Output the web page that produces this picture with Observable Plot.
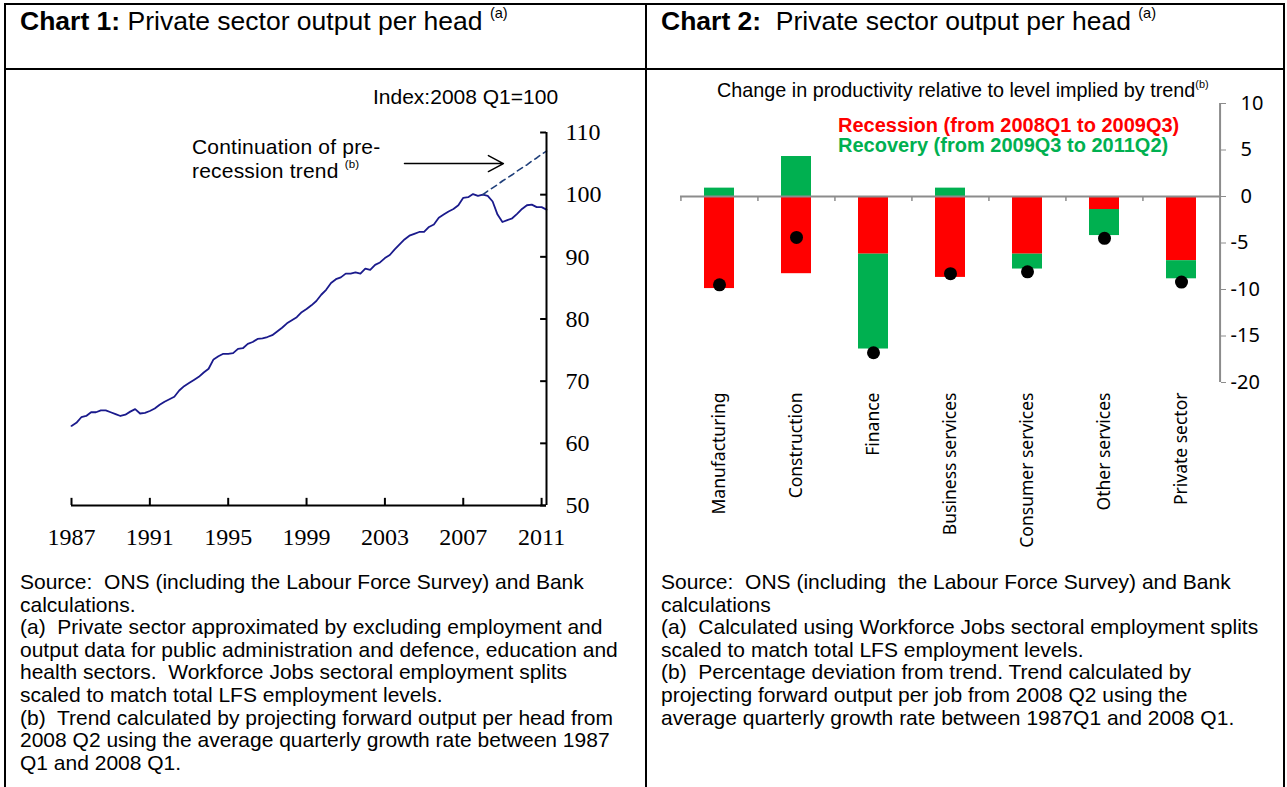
<!DOCTYPE html>
<html>
<head>
<meta charset="utf-8">
<script src="https://cdn.jsdelivr.net/npm/d3@7"></script>
<script src="https://cdn.jsdelivr.net/npm/@observablehq/plot@0.6"></script>
<style>
  html, body { margin: 0; padding: 0; background: #fff; }
  #page { position: relative; width: 1287px; height: 787px; overflow: hidden; font-family: "Liberation Sans", Arial, sans-serif; color: #000; }
  .abs { position: absolute; white-space: nowrap; }
  .line { position: absolute; background: #000; }
  .title { font-size: 26.5px; top: 6px; }
  .foot { font-size: 21px; line-height: 22.6px; top: 571px; }
  sup { font-size: 0.55em; vertical-align: 0; position: relative; top: -0.85em; }
</style>
</head>
<body>
<div id="page">
  <div class="line" style="left:4px;top:3px;width:1281px;height:2px"></div>
  <div class="line" style="left:4px;top:3px;width:2px;height:800px"></div>
  <div class="line" style="left:1283px;top:3px;width:2px;height:800px"></div>
  <div class="line" style="left:645px;top:3px;width:2px;height:800px"></div>
  <div class="line" style="left:4px;top:68px;width:1281px;height:2px"></div>

  <div class="abs title" style="left:20px"><b>Chart 1:</b> Private sector output per head <sup>(a)</sup></div>
  <div class="abs title" style="left:661px"><b>Chart 2:</b>&nbsp; Private sector output per head <sup>(a)</sup></div>

  <div id="chart1" class="abs" style="left:0px;top:70px"></div>
  <div id="chart2" class="abs" style="left:646px;top:70px"></div>

  <div class="abs" style="left:373px;top:85px;font-size:21px">Index:2008 Q1=100</div>
  <div class="abs" style="left:192px;top:135px;font-size:21px;line-height:24px;letter-spacing:0.2px">Continuation of pre-<br>recession trend <sup>(b)</sup></div>

  <div class="abs" style="left:717px;top:79px;font-size:19.8px">Change in productivity relative to level implied by trend<sup>(b)</sup></div>
  <div class="abs" style="left:838px;top:114px;font-size:20px;font-weight:bold;color:#ff0000">Recession (from 2008Q1 to 2009Q3)</div>
  <div class="abs" style="left:838px;top:134px;font-size:20px;font-weight:bold;color:#00b050">Recovery (from 2009Q3 to 2011Q2)</div>

  <div class="abs foot" style="left:20px">Source:&nbsp; ONS (including the Labour Force Survey) and Bank<br>calculations.<br>(a)&nbsp; Private sector approximated by excluding employment and<br>output data for public administration and defence, education and<br>health sectors.&nbsp; Workforce Jobs sectoral employment splits<br>scaled to match total LFS employment levels.<br>(b)&nbsp; Trend calculated by projecting forward output per head from<br>2008 Q2 using the average quarterly growth rate between 1987<br>Q1 and 2008 Q1.</div>
  <div class="abs foot" style="left:661px">Source:&nbsp; ONS (including&nbsp; the Labour Force Survey) and Bank<br>calculations<br>(a)&nbsp; Calculated using Workforce Jobs sectoral employment splits<br>scaled to match total LFS employment levels.<br>(b)&nbsp; Percentage deviation from trend. Trend calculated by<br>projecting forward output per job from 2008 Q2 using the<br>average quarterly growth rate between 1987Q1 and 2008 Q1.</div>
</div>
<script>
// ---------- Chart 1 data ----------
const startYear = 1987;
const outputPerHead = [
  62.8, 63.3, 64.2, 64.4, 65.0, 65.0, 65.3, 65.3, 65.0, 64.7,
  64.4, 64.6, 65.1, 65.5, 64.8, 64.9, 65.2, 65.6, 66.2, 66.7,
  67.1, 67.5, 68.5, 69.2, 69.7, 70.2, 70.7, 71.4, 72.0, 73.5,
  74.0, 74.4, 74.4, 74.5, 75.2, 75.3, 76.0, 76.3, 76.8, 76.9,
  77.1, 77.4, 78.0, 78.6, 79.3, 79.8, 80.3, 81.1, 81.6, 82.2,
  82.9, 83.9, 84.7, 85.8, 86.4, 86.7, 87.3, 87.3, 87.5, 87.3,
  88.1, 87.9, 88.7, 89.1, 89.8, 90.3, 91.2, 92.0, 92.8, 93.4,
  93.7, 94.0, 94.0, 94.8, 95.2, 96.3, 96.8, 97.3, 97.7, 98.3,
  99.5, 99.6, 100.1, 99.8, 100.0, 99.8, 98.9, 96.8, 95.6, 95.9,
  96.2, 96.9, 97.7, 98.3, 98.4, 98.0, 98.0, 97.6
];
const trendStartIndex = 84; // 2008 Q1
const preRecessionTrend = [100.0, 100.6, 101.1, 101.6, 102.2, 102.7, 103.2, 103.8, 104.3, 104.8, 105.4, 105.9, 106.5, 107.0];
const yearTicks = [1987, 1991, 1995, 1999, 2003, 2007, 2011];
const indexTicks = [50, 60, 70, 80, 90, 100, 110];
const arrowNote = [{from: 2004.0, to: 2009.05, level: 105.0}];

// ---------- Chart 2 data ----------
const sectors = ["Manufacturing", "Construction", "Finance", "Business services", "Consumer services", "Other services", "Private sector"];
const recession = [-9.9, -8.3, -6.2, -8.7, -6.2, -1.4, -6.9];
const recovery = [0.9, 4.3, -10.2, 0.9, -1.6, -2.8, -1.95];
const netChange = [-9.5, -4.4, -16.8, -8.3, -8.1, -4.5, -9.2];
const changeTicks = [10, 5, 0, -5, -10, -15, -20];
const phases = ["Recession", "Recovery"];
const phaseColors = ["#ff0000", "#00b050"];

// ---------- Chart 1 ----------
const series = outputPerHead.map((v, i) => ({t: startYear + i / 4, v}));
const trend = preRecessionTrend.map((v, k) => ({t: startYear + (trendStartIndex + k) / 4, v}));
const xEnd = startYear + (outputPerHead.length - 1) / 4;

const chart1 = Plot.plot({
  width: 646, height: 490,
  marginLeft: 71, marginRight: 100, marginTop: 62, marginBottom: 55,
  style: {background: "transparent", overflow: "visible"},
  x: {domain: [startYear, xEnd], axis: null},
  y: {domain: [50, 110], axis: null},
  marks: [
    Plot.line(series, {x: "t", y: "v", stroke: "#1a1a8c", strokeWidth: 1.8}),
    Plot.line(trend, {x: "t", y: "v", stroke: "#1f3f7a", strokeWidth: 1.6, strokeDasharray: "6,4.5"}),
    Plot.ruleY([50], {stroke: "#000", strokeWidth: 2}),
    Plot.ruleX([xEnd], {stroke: "#000", strokeWidth: 2}),
    Plot.ruleX(yearTicks, {x: d => d, y1: 50, y2: 51.15, stroke: "#000", strokeWidth: 2}),
    Plot.ruleY(indexTicks, {y: d => d, x1: xEnd - 0.3, x2: xEnd, stroke: "#000", strokeWidth: 2}),
    Plot.axisX({ticks: yearTicks, tickSize: 0, tickPadding: 22, tickFormat: d => String(d), fontSize: 24, fontFamily: "Liberation Serif, Times New Roman, serif", label: null}),
    Plot.axisY({anchor: "right", ticks: indexTicks, tickSize: 0, tickPadding: 19, tickFormat: d => String(d), fontSize: 24, fontFamily: "Liberation Serif, Times New Roman, serif", label: null}),
    Plot.arrow(arrowNote, {x1: "from", x2: "to", y1: "level", y2: "level", stroke: "#000", strokeWidth: 1.5, headLength: 17, headAngle: 56})
  ]
});
document.getElementById("chart1").appendChild(chart1);

// ---------- Chart 2 ----------
const rows = [];
phases.forEach((p, pi) => {
  const vals = pi === 0 ? recession : recovery;
  sectors.forEach((s, i) => rows.push({sector: s, phase: p, value: vals[i]}));
});
const dots = sectors.map((s, i) => ({sector: s, value: netChange[i]}));
const last = sectors[sectors.length - 1];

const chart2 = Plot.plot({
  width: 640, height: 490,
  marginLeft: 34, marginRight: 66, marginTop: 33, marginBottom: 178,
  style: {background: "transparent", overflow: "visible"},
  x: {domain: sectors, paddingInner: 0.61, paddingOuter: 0.305, axis: null},
  y: {domain: [-20, 10], axis: null},
  color: {domain: phases, range: phaseColors},
  marks: [
    Plot.barY(rows, {x: "sector", y: "value", fill: "phase"}),
    Plot.ruleY([0], {stroke: "#8c8c8c", strokeWidth: 2}),
    Plot.ruleX(sectors, {x: d => d, dx: -38.57, y1: 0, y2: -0.55, stroke: "#8c8c8c", strokeWidth: 1.5}),
    Plot.ruleX([last], {x: d => d, dx: 38.57, y1: -20, y2: 10, stroke: "#8c8c8c", strokeWidth: 2}),
    Plot.axisY({anchor: "right", ticks: changeTicks, tickSize: 5, tickPadding: 5, stroke: "#8c8c8c", fill: "#000",
      tickFormat: d => d < 0 ? "-" + Math.abs(d) : "\u2002" + d, fontSize: 20, label: null}),
    Plot.axisX({anchor: "bottom", tickSize: 0, tickPadding: 10, tickRotate: -90, fontSize: 17.5, fill: "#000", label: null}),
    Plot.dot(dots, {x: "sector", y: "value", r: 6.5, fill: "#000"})
  ]
});
document.getElementById("chart2").appendChild(chart2);
</script>
</body>
</html>
